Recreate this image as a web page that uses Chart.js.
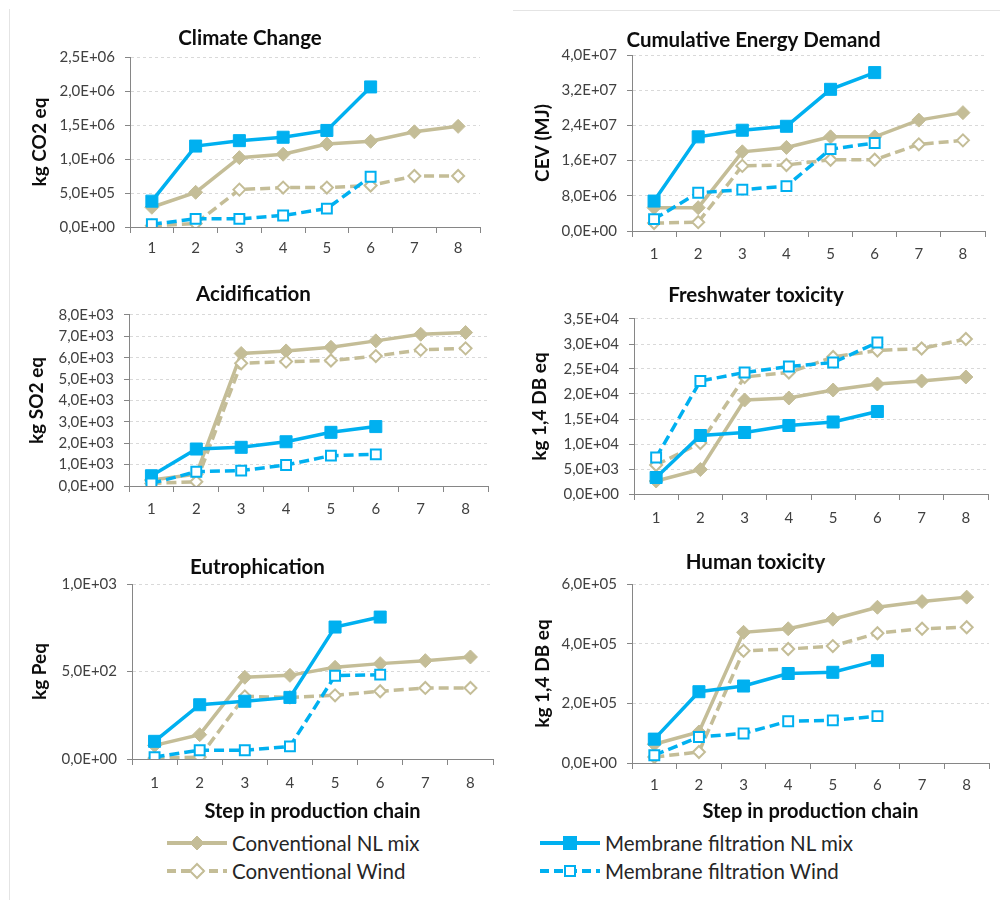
<!DOCTYPE html>
<html>
<head>
<meta charset="utf-8">
<script src="https://cdn.jsdelivr.net/npm/chart.js@4.4.1/dist/chart.umd.min.js"></script>
<style>
  html, body { margin: 0; padding: 0; width: 1000px; height: 900px; overflow: hidden; background: #fff; font-family: Lato, sans-serif; }
  canvas { position: absolute; }
  .edge-v { position: absolute; left: 9px; top: 9px; width: 1px; height: 891px; background: #e4e4e4; }
  .edge-h { position: absolute; left: 513px; top: 10px; width: 487px; height: 1px; background: #e4e4e4; }
  .legend { position: absolute; height: 24px; display: flex; align-items: center; font-size: 20.5px; color: #262626; white-space: nowrap; }
  .legend svg { margin-right: 5px; }
</style>
</head>
<body>
<div class="edge-v"></div>
<div class="edge-h"></div>
<div id="legend"></div>
<script>
// x categories
const steps = ["1", "2", "3", "4", "5", "6", "7", "8"];

// series names
const seriesNames = ["Conventional NL mix", "Conventional Wind", "Membrane filtration NL mix", "Membrane filtration Wind"];

// Climate Change (kg CO2 eq)
const ccConvNL = [2.9e5, 5.1e5, 1.02e6, 1.07e6, 1.22e6, 1.26e6, 1.40e6, 1.48e6];
const ccConvWind = [2e4, 5e4, 5.5e5, 5.8e5, 5.8e5, 6.1e5, 7.5e5, 7.5e5];
const ccMemNL = [3.8e5, 1.19e6, 1.27e6, 1.32e6, 1.42e6, 2.06e6];
const ccMemWind = [4e4, 1.2e5, 1.2e5, 1.7e5, 2.7e5, 7.4e5];

// Cumulative Energy Demand (MJ)
const cedConvNL = [5.3e6, 5.3e6, 1.80e7, 1.90e7, 2.14e7, 2.14e7, 2.52e7, 2.69e7];
const cedConvWind = [1.8e6, 2.0e6, 1.48e7, 1.50e7, 1.62e7, 1.62e7, 1.97e7, 2.06e7];
const cedMemNL = [6.8e6, 2.14e7, 2.29e7, 2.38e7, 3.22e7, 3.60e7];
const cedMemWind = [2.7e6, 8.7e6, 9.4e6, 1.02e7, 1.86e7, 2.00e7];

// Acidification (kg SO2 eq)
const acConvNL = [280, 550, 6200, 6320, 6490, 6790, 7100, 7180];
const acConvWind = [120, 200, 5740, 5820, 5870, 6080, 6370, 6440];
const acMemNL = [480, 1730, 1810, 2070, 2510, 2780];
const acMemWind = [120, 670, 720, 980, 1420, 1480];

// Freshwater toxicity (kg 1,4 DB eq)
const fwConvNL = [2600, 4900, 18800, 19200, 20800, 22000, 22600, 23400];
const fwConvWind = [5800, 10200, 23400, 24300, 27400, 28700, 29100, 31000];
const fwMemNL = [3300, 11700, 12300, 13700, 14400, 16500];
const fwMemWind = [7300, 22600, 24300, 25500, 26300, 30300];

// Eutrophication (kg P eq)
const euConvNL = [78, 139, 467, 478, 524, 545, 562, 583];
const euConvWind = [5, 11, 358, 352, 364, 387, 406, 406];
const euMemNL = [101, 310, 330, 352, 754, 811];
const euMemWind = [11, 50, 50, 72, 476, 482];

// Human toxicity (kg 1,4 DB eq)
const htConvNL = [6.3e4, 1.04e5, 4.38e5, 4.50e5, 4.82e5, 5.22e5, 5.41e5, 5.56e5];
const htConvWind = [2.0e4, 3.7e4, 3.76e5, 3.82e5, 3.92e5, 4.35e5, 4.50e5, 4.55e5];
const htMemNL = [8.0e4, 2.39e5, 2.58e5, 3.00e5, 3.04e5, 3.43e5];
const htMemWind = [2.6e4, 8.7e4, 9.9e4, 1.40e5, 1.43e5, 1.57e5];

const TAN = "#C4BD97";
const BLUE = "#00B0F0";
const AXIS = "#868686";
const Y_AXIS_W = 110;

// font sizes (line height is 1.2x in Chart.js)
const TITLE_SIZE = 20.5;
const AXIS_TITLE_SIZE = 19;
const X_TITLE_SIZE = 20;
const TICK_SIZE = 15;

// panel layout: plot = [left, top, right, bottom] of the plot area in page px
const panels = [
  { title: "Climate Change", yTitle: "kg CO2 eq", max: 2.5e6, step: 5e5,
    data: [ccConvNL, ccConvWind, ccMemNL, ccMemWind],
    plot: [130, 57, 480, 227], titleX: 285, titleY: 38, yTitleX: 40, xLabelY: 248 },
  { title: "Cumulative Energy Demand", yTitle: "CEV (MJ)", max: 4e7, step: 8e6,
    data: [cedConvNL, cedConvWind, cedMemNL, cedMemWind],
    plot: [632, 55, 985, 231], titleX: 818, titleY: 40, yTitleX: 543, xLabelY: 254 },
  { title: "Acidification", yTitle: "kg SO2 eq", max: 8e3, step: 1e3,
    data: [acConvNL, acConvWind, acMemNL, acMemWind],
    plot: [129, 315, 488, 486], titleX: 322, titleY: 294, yTitleX: 37, xLabelY: 509 },
  { title: "Freshwater toxicity", yTitle: "kg 1,4 DB eq", max: 3.5e4, step: 5e3,
    data: [fwConvNL, fwConvWind, fwMemNL, fwMemWind],
    plot: [634, 319, 988, 494], titleX: 806, titleY: 295, yTitleX: 540, xLabelY: 518 },
  { title: "Eutrophication", yTitle: "kg Peq", max: 1e3, step: 5e2,
    data: [euConvNL, euConvWind, euMemNL, euMemWind],
    plot: [132, 584, 493, 759], titleX: 332, titleY: 567, yTitleX: 40, xLabelY: 783, xTitleY: 812 },
  { title: "Human toxicity", yTitle: "kg 1,4 DB eq", max: 6e5, step: 2e5,
    data: [htConvNL, htConvWind, htMemNL, htMemWind],
    plot: [632, 584, 989, 763], titleX: 772, titleY: 562, yTitleX: 543, xLabelY: 785, xTitleY: 812 },
];

// look of each series, same order as seriesNames
const looks = [
  { color: TAN, dashed: false, shape: "rectRot", filled: true, radius: 7, order: 4 },
  { color: TAN, dashed: true, shape: "rectRot", filled: false, radius: 6, order: 3 },
  { color: BLUE, dashed: false, shape: "rect", filled: true, radius: 8.5, order: 2 },
  { color: BLUE, dashed: true, shape: "rect", filled: false, radius: 7, order: 1 },
];

// 2,5E+06 style labels
const sci = (v) => {
  if (v === 0) return "0,0E+00";
  let e = Math.floor(Math.log10(Math.abs(v)));
  let m = v / Math.pow(10, e);
  if (Math.abs(m) >= 9.95) { m /= 10; e++; }
  return m.toFixed(1).replace(".", ",") + "E" + (e < 0 ? "-" : "+") + String(Math.abs(e)).padStart(2, "0");
};

const tickFont = { family: "Lato", size: TICK_SIZE };

panels.forEach((p) => {
  const halfTitle = TITLE_SIZE * 0.6;
  const left = p.plot[0] - Y_AXIS_W;
  const width = 2 * (p.titleX - left);
  const top = Math.round(p.titleY - halfTitle - 12);
  const xAxisH = p.xTitleY ? p.xTitleY + X_TITLE_SIZE * 0.6 - p.plot[3] : 36;
  const height = p.plot[3] + xAxisH - top;

  const cv = document.createElement("canvas");
  cv.width = width;
  cv.height = height;
  cv.style.left = left + "px";
  cv.style.top = top + "px";
  document.body.appendChild(cv);

  const datasets = p.data.map((d, i) => {
    const lk = looks[i];
    return {
      label: seriesNames[i],
      data: d,
      order: lk.order,
      borderColor: lk.color,
      borderWidth: 3.5,
      borderDash: lk.dashed ? [10, 5] : [],
      pointStyle: lk.shape,
      pointRadius: lk.radius,
      pointBackgroundColor: lk.filled ? lk.color : "#ffffff",
      pointBorderColor: lk.color,
      pointBorderWidth: lk.filled ? 1 : 2,
      tension: 0,
      fill: false,
    };
  });

  new Chart(cv, {
    type: "line",
    data: { labels: steps, datasets: datasets },
    options: {
      responsive: false,
      devicePixelRatio: 1,
      animation: false,
      layout: { padding: { left: 0, top: 0, bottom: 0, right: left + width - p.plot[2] } },
      plugins: {
        legend: { display: false },
        tooltip: { enabled: false },
        title: {
          display: true,
          text: p.title,
          color: "#0d0d0d",
          font: { family: "Lato", size: TITLE_SIZE, weight: "bold" },
          padding: { top: p.titleY - halfTitle - top, bottom: p.plot[1] - p.titleY - halfTitle },
        },
      },
      scales: {
        x: {
          offset: true,
          grid: { offset: true, drawOnChartArea: false, drawTicks: true, tickLength: 6, color: AXIS, tickColor: AXIS },
          border: { display: true, color: AXIS },
          ticks: {
            color: "#404040", font: tickFont, autoSkip: false, maxRotation: 0,
            padding: p.xLabelY - p.plot[3] - 6 - TICK_SIZE * 0.6,
          },
          title: {
            display: !!p.xTitleY,
            text: "Step in production chain",
            color: "#0d0d0d",
            font: { family: "Lato", size: X_TITLE_SIZE, weight: "bold" },
            padding: { top: 0, bottom: 0 },
          },
          afterFit: (s) => { s.height = xAxisH; },
        },
        y: {
          min: 0,
          max: p.max,
          ticks: { stepSize: p.step, callback: (v) => sci(v), color: "#404040", font: tickFont, padding: 10 },
          grid: {
            color: (c) => (c.tick && c.tick.value === 0 ? "rgba(0,0,0,0)" : "#D9D9D9"),
            drawTicks: true,
            tickLength: 5,
            tickColor: AXIS,
            tickBorderDash: [],
          },
          border: { display: true, color: AXIS, dash: [3, 3] },
          title: {
            display: true,
            text: p.yTitle,
            color: "#0d0d0d",
            font: { family: "Lato", size: AXIS_TITLE_SIZE, weight: "bold" },
            padding: { top: p.yTitleX - left - AXIS_TITLE_SIZE * 0.6, bottom: 0 },
          },
          afterFit: (s) => { s.width = Y_AXIS_W; },
        },
      },
    },
  });
});

// legend below the grid
const legendPos = [[167, 843], [167, 871], [540, 843], [540, 871]];
const legendBox = document.getElementById("legend");
seriesNames.forEach((name, i) => {
  const lk = looks[i];
  const fill = lk.filled ? lk.color : "#ffffff";
  const dash = lk.dashed ? ' stroke-dasharray="9,5"' : "";
  const marker = lk.shape === "rectRot"
    ? `<polygon points="30,3 37,10 30,17 23,10" fill="${fill}" stroke="${lk.color}" stroke-width="${lk.filled ? 1 : 2}"/>`
    : (lk.filled
      ? `<rect x="23.5" y="3.5" width="13" height="13" fill="${fill}" stroke="${lk.color}" stroke-width="1"/>`
      : `<rect x="25" y="5" width="10" height="10" fill="${fill}" stroke="${lk.color}" stroke-width="2"/>`);
  const div = document.createElement("div");
  div.className = "legend";
  div.style.left = legendPos[i][0] + "px";
  div.style.top = (legendPos[i][1] - 12) + "px";
  div.innerHTML = `<svg width="60" height="20"><line x1="0" y1="10" x2="60" y2="10" stroke="${lk.color}" stroke-width="4"${dash}/>${marker}</svg><span>${name}</span>`;
  legendBox.appendChild(div);
});
</script>
</body>
</html>
